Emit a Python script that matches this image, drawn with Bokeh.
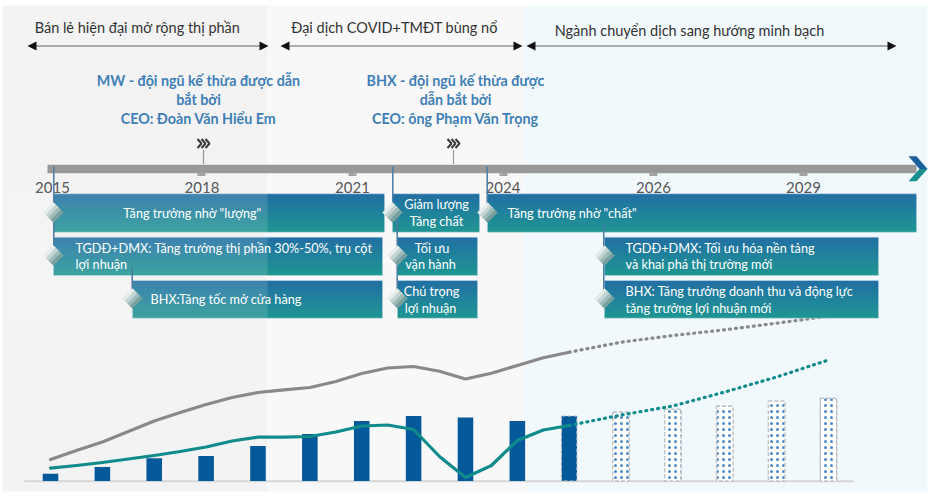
from bokeh.plotting import figure
from bokeh.models import Range1d
from bokeh.core.properties import value
from bokeh.embed import file_html
from bokeh.resources import INLINE

# ---------------- data ----------------
years_actual = [2015, 2016, 2017, 2018, 2019, 2020, 2021, 2022, 2023, 2024, 2025]
revenue_actual = [7.3, 14.0, 22.7, 25.0, 35.0, 47.0, 60.0, 65.0, 63.5, 60.0, 65.0]
years_forecast = [2026, 2027, 2028, 2029, 2030]
revenue_forecast = [69.0, 71.7, 75.0, 80.0, 82.7]

curve_x = [2015, 2015.5, 2016, 2016.5, 2017, 2017.5, 2018, 2018.5, 2019, 2019.5,
           2020, 2020.5, 2021, 2021.5, 2022, 2022.5, 2023, 2023.5, 2024, 2024.5, 2025]
gray_curve = [21.5, 30.5, 39.0, 49.5, 60.0, 68.5, 76.5, 83.5, 88.5, 91.2,
              93.5, 99.5, 107.5, 113.0, 114.5, 109.8, 102.0, 107.8, 115.5, 123.2, 128.8]
teal_curve = [12.8, 15.5, 18.5, 22.0, 25.5, 29.5, 34.0, 40.0, 43.8, 43.8,
              44.5, 49.0, 55.0, 56.0, 51.5, 24.5, 3.5, 15.5, 40.5, 51.0, 55.5]
forecast_x = [2025, 2026, 2027, 2028, 2029, 2030]
gray_forecast = [128.8, 138.8, 145.5, 151.2, 157.8, 164.8]
teal_forecast = [55.5, 66.0, 75.0, 89.0, 104.0, 121.0]

timeline_labels = ["2015", "2018", "2021", "2024", "2026", "2029"]
era_labels = ["Bán lẻ hiện đại mở rộng thị phần",
              "Đại dịch COVID+TMĐT bùng nổ",
              "Ngành chuyển dịch sang hướng minh bạch"]
caption_mw = ["MW - đội ngũ kế thừa được dẫn", "bắt bởi", "CEO: Đoàn Văn Hiểu Em"]
caption_bhx = ["BHX - đội ngũ kế thừa được", "dẫn bắt bởi", "CEO: ông Phạm Văn Trọng"]

# ---------------- layout (screen pixels) ----------------
W, H = 937, 494
FONT = "Lato"
p = figure(width=W, height=H, output_backend="svg", toolbar_location=None,
           x_axis_location=None, y_axis_location=None, min_border=0,
           x_range=Range1d(0, W), y_range=Range1d(H, 0))
p.outline_line_color = None
p.grid.visible = False
p.background_fill_color = "white"
p.border_fill_color = "white"

# data ranges: 2015 -> x=50px, 1 year = 51.87px ; value 0 -> y=480.5px, 1 unit = 1px
px_per_year = 51.87
p.extra_x_ranges = {"yr": Range1d(2015 - 50 / px_per_year, 2015 + (W - 50) / px_per_year)}
p.extra_y_ranges = {"val": Range1d(-(H - 480.5), 480.5)}

# background panels
p.quad(left=[2, 267, 524], right=[267, 524, 927], top=[5, 5, 5], bottom=[491, 491, 491],
       fill_color=["#f3f3f3", "#f8f8f8", "#f2f9fd"], line_color=None)

# baseline
p.segment(x0=[24], y0=[480.8], x1=[853], y1=[480.8], line_color="#d6d6d6", line_width=2)

# bars
p.vbar(x=years_actual, top=revenue_actual, bottom=0, width=0.3,
       x_range_name="yr", y_range_name="val", fill_color="#04599b", line_color=None)
p.vbar(x=years_actual[-1:], top=revenue_actual[-1:], bottom=0, width=0.3,
       x_range_name="yr", y_range_name="val", fill_color=None,
       line_color="#c4c4c4", line_dash="4 2", line_width=1.2)
p.vbar(x=years_forecast, top=revenue_forecast, bottom=0, width=0.32,
       x_range_name="yr", y_range_name="val", fill_color="white",
       line_color="#c4c4c4", line_dash="4 2", line_width=1.5,
       hatch_pattern=".", hatch_color="#2f74bd", hatch_alpha=0.85, hatch_scale=6, hatch_weight=0.5)

# curves
p.line(curve_x, gray_curve, x_range_name="yr", y_range_name="val",
       line_color="#898989", line_width=3.2, line_join="round", line_cap="round")
p.line(forecast_x, gray_forecast, x_range_name="yr", y_range_name="val",
       line_color="#898989", line_width=3.2, line_dash="1 5", line_cap="round")
p.line(curve_x, teal_curve, x_range_name="yr", y_range_name="val",
       line_color="#0f8b8b", line_width=3.2, line_join="round", line_cap="round")
p.line(forecast_x, teal_forecast, x_range_name="yr", y_range_name="val",
       line_color="#0f8b8b", line_width=3.2, line_dash="1 5", line_cap="round")

# era arrows
arrows = [(27, 268), (280, 522), (526, 896)]
AY = 45.5
p.segment(x0=[a + 7 for a, b in arrows], y0=[AY] * 3, x1=[b - 7 for a, b in arrows], y1=[AY] * 3,
          line_color="#333333", line_width=1.4, line_dash="1 1")
hx, hy = [], []
for a, b in arrows:
    hx.append([a, a + 9, a + 9]); hy.append([AY, AY - 4.5, AY + 4.5])
    hx.append([b, b - 9, b - 9]); hy.append([AY, AY - 4.5, AY + 4.5])
p.patches(hx, hy, fill_color="#111111", line_color=None)

era_x = [137, 394, 689]
p.text(x=era_x, y=[27, 27, 29.5], text=era_labels, text_align="center", text_baseline="middle",
       text_font=value(FONT), text_font_size="14.5px", text_color="#333333")

# captions
for cx, lines in ((198, caption_mw), (455, caption_bhx)):
    p.text(x=[cx] * 3, y=[80, 99, 117.5], text=lines, text_align="center", text_baseline="middle",
           text_font=value(FONT), text_font_size="14.3px", text_font_style="bold",
           text_color="#3f7fb5")

# chevron icons + dotted drop lines
chev_xs, chev_ys = [], []
for cx in (203, 453):
    for k in range(3):
        x0 = cx - 6 + 4 * k
        chev_xs.append([x0, x0 + 4, x0]); chev_ys.append([138.5, 143, 147.5])
p.multi_line(chev_xs, chev_ys, line_color="#3a3a3a", line_width=2)
p.segment(x0=[203, 453], y0=[150, 150], x1=[203, 453], y1=[164, 164],
          line_color="#444444", line_width=1.3, line_dash="1 1")

# timeline bar
p.quad(left=[47], right=[916], top=[164.3], bottom=[172.7], fill_color="#999999", line_color=None)
tick_x = [201, 352, 503, 653, 803]
p.quad(left=[t - 4 for t in tick_x], right=[t + 4 for t in tick_x],
       top=[172] * 5, bottom=[175.5] * 5, fill_color="#a3a3a3", line_color=None)
p.patch([908, 916, 927, 919], [155.7, 155.7, 168.5, 168.5], fill_color="#1b5f9d", line_color=None)
p.patch([919, 927, 916, 908], [168.5, 168.5, 180.7, 180.7], fill_color="#178f8d", line_color=None)

p.text(x=[52, 201.5, 352, 502.5, 653, 803], y=[186.5] * 6, text=timeline_labels,
       text_align="center", text_baseline="middle", text_font=value(FONT),
       text_font_size="15px", text_color="#555555")

# gradient boxes
TOP = (34, 111, 164)
BOT = (31, 150, 146)


def mix(t):
    return "#%02x%02x%02x" % tuple(int(round(a + (b - a) * t)) for a, b in zip(TOP, BOT))


boxes = [  # left, right, top, bottom
    (53, 384, 193.3, 231.7), (392, 479, 193.3, 231.7), (487, 916, 193.3, 231.7),
    (53, 382, 236.7, 275), (397, 477, 236.7, 275), (604, 878, 236.7, 275),
    (132, 382, 280, 317.7), (397, 477, 280, 317.7), (604, 878, 280, 317.7),
]
N = 24
L, R, T, B, C = [], [], [], [], []
for (l, r, t, b) in boxes:
    for i in range(N):
        L.append(l); R.append(r)
        T.append(t + (b - t) * i / N)
        B.append(min(b, t + (b - t) * (i + 1) / N + 0.8))
        C.append(mix((i + 0.5) / N))
p.quad(left=L, right=R, top=T, bottom=B, fill_color=C, line_color=None)
p.quad(left=[b[0] for b in boxes], right=[b[1] for b in boxes], top=[b[2] for b in boxes],
       bottom=[b[3] for b in boxes], fill_color=None, line_color="#c6dbe6", line_width=1, line_alpha=0.5)

# lighter left panel overlay on boxes
p.quad(left=[2], right=[267], top=[192], bottom=[319], fill_color="white", fill_alpha=0.13, line_color=None)

# connectors
p.segment(x0=[53.3, 392.3, 486.7, 396.7, 131.7, 603.3],
          y0=[166, 166, 166, 212, 266.5, 223],
          x1=[53.3, 392.3, 486.7, 396.7, 131.7, 603.3],
          y1=[255, 212, 212, 298, 298, 298],
          line_color="#4a7ba3", line_width=1.5)

# diamonds (4 gradient bands)
diamonds = [(53, 212), (392, 212), (487, 212), (53, 255), (397, 255), (604, 255),
            (132, 298), (397, 298), (604, 298)]
D = 10
band_cols = ["#e4ecea", "#c3d4d3", "#9ebbba", "#77a09f"]
dx, dy, dc = [], [], []
for (cx, cy) in diamonds:
    Lp = (cx - D, cy); Tp = (cx, cy - D); Bp = (cx, cy + D)
    for j in range(4):
        v0, v1 = j / 4, (j + 1) / 4
        pts = []
        for (u, v) in ((0, v0), (1, v0), (1, v1), (0, v1)):
            pts.append((Lp[0] + u * (Tp[0] - Lp[0]) + v * (Bp[0] - Lp[0]),
                        Lp[1] + u * (Tp[1] - Lp[1]) + v * (Bp[1] - Lp[1])))
        dx.append([q[0] for q in pts]); dy.append([q[1] for q in pts]); dc.append(band_cols[j])
p.patches(dx, dy, fill_color=dc, line_color=dc, line_width=0.5)

# box texts
box_center = [
    (192, 212, "Tăng trưởng nhờ \"lượng\""),
    (436, 203.5, "Giảm lượng"), (436, 220, "Tăng chất"),
    (431.5, 247, "Tối ưu"), (430, 263.5, "vận hành"),
    (431, 290.5, "Chú trọng"), (430, 307, "lợi nhuận"),
]
box_left = [
    (507, 212, "Tăng trưởng nhờ \"chất\""),
    (75, 247.5, "TGDĐ+DMX:  Tăng trưởng thị phần 30%-50%, trụ cột"), (75, 263.5, "lợi nhuận"),
    (150, 298, "BHX:Tăng tốc mở cửa hàng"),
    (625, 247, "TGDĐ+DMX: Tối ưu hóa nền tảng"), (625, 263.5, "và khai phá thị trường mới"),
    (625, 290.5, "BHX: Tăng trưởng doanh thu và động lực"), (625, 307, "tăng trưởng lợi nhuận mới"),
]
p.text(x=[a for a, b, c in box_center], y=[b for a, b, c in box_center], text=[c for a, b, c in box_center],
       text_align="center", text_baseline="middle", text_font=value(FONT), text_font_size="12.7px",
       text_color="white")
p.text(x=[a for a, b, c in box_left], y=[b for a, b, c in box_left], text=[c for a, b, c in box_left],
       text_align="left", text_baseline="middle", text_font=value(FONT), text_font_size="12.7px",
       text_color="white")

open("out.html", "w").write(file_html(p, INLINE))
